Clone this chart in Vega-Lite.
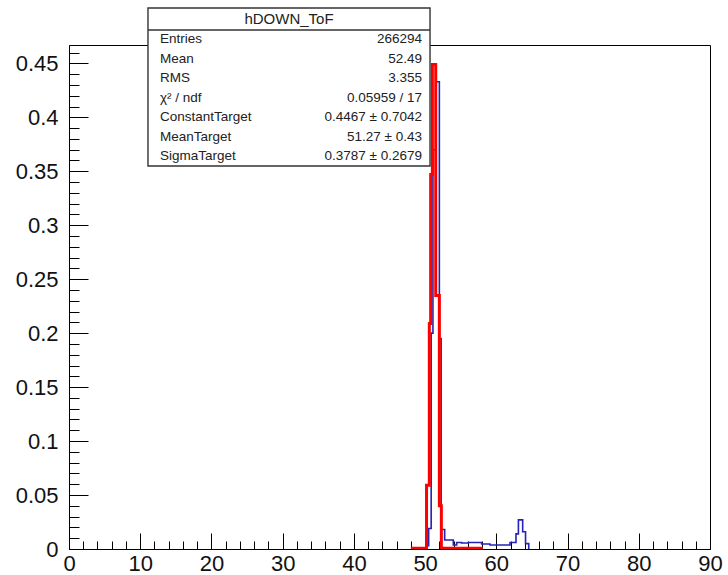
{
  "$schema": "https://vega.github.io/schema/vega-lite/v6.json",
  "width": 641,
  "height": 504,
  "autosize": "none",
  "padding": {"left": 69, "top": 45, "right": 18, "bottom": 26},
  "background": "white",
  "config": {
    "view": {"stroke": "black", "strokeWidth": 1},
    "font": "Liberation Sans",
    "axis": {"grid": false, "domainColor": "black", "tickColor": "black", "labelColor": "#111111", "labelFont": "Liberation Sans", "labelFontSize": 22, "domainWidth": 1, "tickWidth": 1, "titleOpacity": 0}
  },
  "datasets": {
    "blue": [
      {"x": 50.25, "y": 0.003},
      {"x": 50.5, "y": 0.019},
      {"x": 50.85, "y": 0.2},
      {"x": 51.1, "y": 0.37},
      {"x": 51.5, "y": 0.433},
      {"x": 52.0, "y": 0.195},
      {"x": 52.25, "y": 0.018},
      {"x": 52.75, "y": 0.0083},
      {"x": 53.96, "y": 0.0037},
      {"x": 54.43, "y": 0.006},
      {"x": 55.13, "y": 0.0055},
      {"x": 56.07, "y": 0.006},
      {"x": 57.94, "y": 0.0046},
      {"x": 59.11, "y": 0.0037},
      {"x": 61.92, "y": 0.006},
      {"x": 62.76, "y": 0.014},
      {"x": 63.1, "y": 0.027},
      {"x": 63.7, "y": 0.016},
      {"x": 64.1, "y": 0.005},
      {"x": 64.55, "y": 0.0}
    ],
    "red": [
      {"x": 48.0, "y": 0.0008},
      {"x": 50.2, "y": 0.059},
      {"x": 50.59, "y": 0.209},
      {"x": 50.78, "y": 0.347},
      {"x": 51.02, "y": 0.449},
      {"x": 51.49, "y": 0.235},
      {"x": 52.0, "y": 0.04},
      {"x": 52.28, "y": 0.0008},
      {"x": 58.1, "y": 0.0008}
    ],
    "stats": [
      {"label": "Entries", "value": "266294"},
      {"label": "Mean", "value": "52.49"},
      {"label": "RMS", "value": "3.355"},
      {"label": "χ² / ndf", "value": "0.05959 / 17"},
      {"label": "ConstantTarget", "value": "0.4467 ± 0.7042"},
      {"label": "MeanTarget", "value": "51.27 ± 0.43"},
      {"label": "SigmaTarget", "value": "0.3787 ± 0.2679"}
    ]
  },
  "layer": [
    {
      "layer": [
        {
          "data": {"name": "blue"},
          "mark": {"type": "line", "interpolate": "step-after", "color": "#2424b4", "strokeWidth": 1.6, "clip": true},
          "encoding": {
            "x": {"field": "x", "type": "quantitative",
              "scale": {"domain": [0, 90], "nice": false, "zero": false},
              "axis": {"title": null,
                "values": [0,2,4,6,8,10,12,14,16,18,20,22,24,26,28,30,32,34,36,38,40,42,44,46,48,50,52,54,56,58,60,62,64,66,68,70,72,74,76,78,80,82,84,86,88,90],
                "tickSize": {"condition": {"test": "datum.value % 10 === 0", "value": -16}, "value": -8},
                "labelExpr": "datum.value % 10 === 0 ? datum.label : ''",
                "labelPadding": 20, "labelFlush": false, "labelOverlap": false}},
            "y": {"field": "y", "type": "quantitative",
              "scale": {"domain": [0, 0.467], "nice": false},
              "axis": {"title": null,
                "values": [0,0.01,0.02,0.03,0.04,0.05,0.06,0.07,0.08,0.09,0.1,0.11,0.12,0.13,0.14,0.15,0.16,0.17,0.18,0.19,0.2,0.21,0.22,0.23,0.24,0.25,0.26,0.27,0.28,0.29,0.3,0.31,0.32,0.33,0.34,0.35,0.36,0.37,0.38,0.39,0.4,0.41,0.42,0.43,0.44,0.45,0.46],
                "tickSize": {"condition": {"test": "round(datum.value*100) % 5 === 0", "value": -19}, "value": -10},
                "labelExpr": "round(datum.value*100) % 5 === 0 ? format(datum.value, '.2~f') : ''",
                "labelPadding": 30, "labelFlush": false, "labelOverlap": false}}
          }
        },
        {
          "data": {"name": "red"},
          "mark": {"type": "line", "interpolate": "step-after", "color": "#ff0000", "strokeWidth": 3, "clip": true},
          "encoding": {
            "x": {"field": "x", "type": "quantitative", "axis": null},
            "y": {"field": "y", "type": "quantitative", "axis": null}
          }
        },
        {
          "data": {"values": [{}]},
          "mark": {"type": "rect", "fill": "white", "stroke": "#333333", "strokeWidth": 1.4},
          "encoding": {
            "x": {"datum": 11.09, "type": "quantitative", "axis": null},
            "x2": {"datum": 50.69},
            "y": {"datum": 0.5013, "type": "quantitative", "axis": null},
            "y2": {"datum": 0.3549}
          }
        },
        {
          "data": {"values": [{}]},
          "mark": {"type": "rule", "stroke": "#333333", "strokeWidth": 1.4},
          "encoding": {
            "x": {"datum": 11.09, "type": "quantitative", "axis": null},
            "x2": {"datum": 50.69},
            "y": {"datum": 0.4809, "type": "quantitative", "axis": null}
          }
        },
        {
          "data": {"values": [{"title": "hDOWN_ToF"}]},
          "mark": {"type": "text", "align": "center", "baseline": "middle", "fontSize": 15, "color": "#222222", "font": "Liberation Sans"},
          "encoding": {
            "x": {"datum": 30.89, "type": "quantitative", "axis": null},
            "y": {"datum": 0.4909, "type": "quantitative", "axis": null},
            "text": {"field": "title"}
          }
        }
      ],
      "resolve": {"axis": {"x": "independent", "y": "independent"}}
    },
    {
      "data": {"name": "stats"},
      "encoding": {
        "y": {"field": "label", "type": "nominal", "sort": null, "scale": {"type": "point", "range": [-6, 111], "padding": 0}, "axis": null}
      },
      "layer": [
        {
          "mark": {"type": "text", "align": "left", "baseline": "middle", "fontSize": 13.5, "color": "#222222", "font": "Liberation Sans"},
          "encoding": {
            "x": {"datum": 12.78, "type": "quantitative", "axis": null},
            "text": {"field": "label"}
          }
        },
        {
          "mark": {"type": "text", "align": "right", "baseline": "middle", "fontSize": 13.5, "color": "#222222", "font": "Liberation Sans"},
          "encoding": {
            "x": {"datum": 49.56, "type": "quantitative", "axis": null},
            "text": {"field": "value"}
          }
        }
      ],
      "resolve": {"axis": {"x": "independent"}}
    }
  ],
  "resolve": {"scale": {"y": "independent"}, "axis": {"x": "independent", "y": "independent"}}
}
